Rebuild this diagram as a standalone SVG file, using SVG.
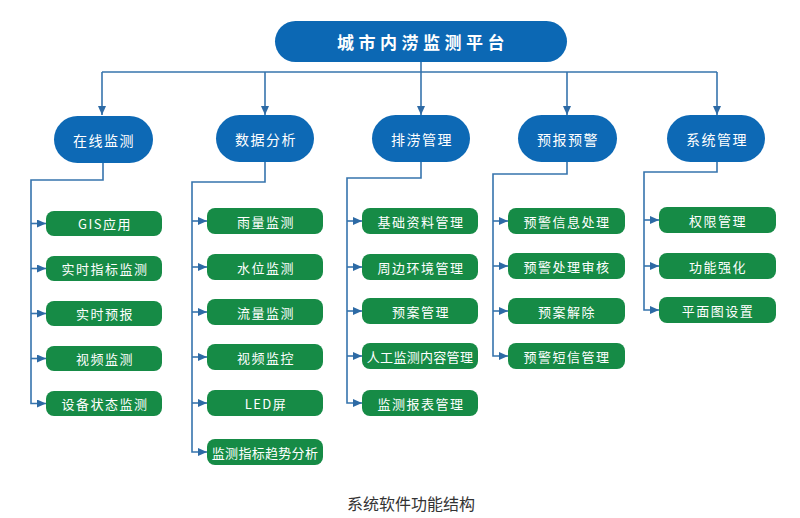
<svg xmlns="http://www.w3.org/2000/svg" width="800" height="518" viewBox="0 0 800 518">
<defs>
<style>
.top{fill:#0c68b4}
.l2{fill:#0d69b5}
.leaf{fill:#168b46}
.ln{fill:none;stroke:#3674ad;stroke-width:1.6}
.t{font-family:"Noto Sans CJK SC","Noto Sans",sans-serif;fill:#ffffff;text-anchor:middle;dominant-baseline:central}
.tt{font-size:17px;font-weight:bold;letter-spacing:4.5px}
.t2{font-size:14px;letter-spacing:1.5px}
.t3{font-size:13px;letter-spacing:1.5px}
.cap{font-family:"Noto Sans CJK SC","Noto Sans",sans-serif;font-size:16px;fill:#333333;text-anchor:middle;dominant-baseline:central}
</style>
<marker id="ad" markerWidth="9" markerHeight="8" refX="9" refY="4" orient="auto" markerUnits="userSpaceOnUse">
<path d="M0,0 L9,4 L0,8 Z" fill="#2d6aa5"/>
</marker>
</defs>
<rect width="800" height="518" fill="#ffffff"/>
<g id="connectors">
<path class="ln" d="M102,72 H717"/>
<path class="ln" d="M421,62 V72"/>
<path class="ln" d="M102,72 V115" marker-end="url(#ad)"/>
<path class="ln" d="M265,72 V115" marker-end="url(#ad)"/>
<path class="ln" d="M421,72 V115" marker-end="url(#ad)"/>
<path class="ln" d="M567,72 V115" marker-end="url(#ad)"/>
<path class="ln" d="M717,72 V115" marker-end="url(#ad)"/>
<!-- col1 -->
<path class="ln" d="M103,163 V180 H31 V403.5 H46" marker-end="url(#ad)"/>
<path class="ln" d="M31,223.5 H46" marker-end="url(#ad)"/>
<path class="ln" d="M31,268.5 H46" marker-end="url(#ad)"/>
<path class="ln" d="M31,313.5 H46" marker-end="url(#ad)"/>
<path class="ln" d="M31,358.5 H46" marker-end="url(#ad)"/>
<!-- col2 -->
<path class="ln" d="M265,162 V182 H192 V452 H207" marker-end="url(#ad)"/>
<path class="ln" d="M192,221 H207" marker-end="url(#ad)"/>
<path class="ln" d="M192,267 H207" marker-end="url(#ad)"/>
<path class="ln" d="M192,312 H207" marker-end="url(#ad)"/>
<path class="ln" d="M192,357 H207" marker-end="url(#ad)"/>
<path class="ln" d="M192,403 H207" marker-end="url(#ad)"/>
<!-- col3 -->
<path class="ln" d="M421,162 V178 H347 V403 H362" marker-end="url(#ad)"/>
<path class="ln" d="M347,221 H362" marker-end="url(#ad)"/>
<path class="ln" d="M347,267 H362" marker-end="url(#ad)"/>
<path class="ln" d="M347,311 H362" marker-end="url(#ad)"/>
<path class="ln" d="M347,356 H362" marker-end="url(#ad)"/>
<!-- col4 -->
<path class="ln" d="M567,162 V174 H493 V356 H508" marker-end="url(#ad)"/>
<path class="ln" d="M493,221 H508" marker-end="url(#ad)"/>
<path class="ln" d="M493,266 H508" marker-end="url(#ad)"/>
<path class="ln" d="M493,311 H508" marker-end="url(#ad)"/>
<!-- col5 -->
<path class="ln" d="M717,162 V172 H644 V310 H659" marker-end="url(#ad)"/>
<path class="ln" d="M644,220 H659" marker-end="url(#ad)"/>
<path class="ln" d="M644,266 H659" marker-end="url(#ad)"/>
</g>
<g id="root"><rect class="top" x="275" y="21" width="292" height="41" rx="20.5"/><text class="t tt" x="423" y="41.5">城市内涝监测平台</text></g>
<g id="n-zxjc"><rect class="l2" x="54" y="116" width="99" height="47" rx="23.5"/><text class="t t2" x="104" y="139.5">在线监测</text></g>
<g id="n-sjfx"><rect class="l2" x="216" y="115" width="98" height="47" rx="23.5"/><text class="t t2" x="266" y="138.5">数据分析</text></g>
<g id="n-plgl"><rect class="l2" x="372" y="115" width="98" height="47" rx="23.5"/><text class="t t2" x="422" y="138.5">排涝管理</text></g>
<g id="n-ybyj"><rect class="l2" x="518" y="115" width="99" height="47" rx="23.5"/><text class="t t2" x="568" y="138.5">预报预警</text></g>
<g id="n-xtgl"><rect class="l2" x="667" y="115" width="98" height="47" rx="23.5"/><text class="t t2" x="717" y="138.5">系统管理</text></g>

<g id="c1-1"><rect class="leaf" x="46" y="211" width="116" height="25" rx="8"/><text class="t t3" x="105" y="223.5">GIS应用</text></g>
<g id="c1-2"><rect class="leaf" x="46" y="256" width="116" height="25" rx="8"/><text class="t t3" x="105" y="268.5">实时指标监测</text></g>
<g id="c1-3"><rect class="leaf" x="46" y="301" width="116" height="25" rx="8"/><text class="t t3" x="105" y="313.5">实时预报</text></g>
<g id="c1-4"><rect class="leaf" x="46" y="346" width="116" height="25" rx="8"/><text class="t t3" x="105" y="358.5">视频监测</text></g>
<g id="c1-5"><rect class="leaf" x="46" y="391" width="116" height="25" rx="8"/><text class="t t3" x="105" y="403.5">设备状态监测</text></g>

<g id="c2-1"><rect class="leaf" x="207" y="208" width="116" height="26" rx="8"/><text class="t t3" x="266" y="221">雨量监测</text></g>
<g id="c2-2"><rect class="leaf" x="207" y="254" width="116" height="26" rx="8"/><text class="t t3" x="266" y="267">水位监测</text></g>
<g id="c2-3"><rect class="leaf" x="207" y="299" width="116" height="26" rx="8"/><text class="t t3" x="266" y="312">流量监测</text></g>
<g id="c2-4"><rect class="leaf" x="207" y="344" width="116" height="26" rx="8"/><text class="t t3" x="266" y="357">视频监控</text></g>
<g id="c2-5"><rect class="leaf" x="207" y="390" width="116" height="26" rx="8"/><text class="t t3" x="266" y="403">LED屏</text></g>
<g id="c2-6"><rect class="leaf" x="207" y="439" width="116" height="26" rx="8"/><text class="t t3" x="265" y="452" style="letter-spacing:0.3px">监测指标趋势分析</text></g>

<g id="c3-1"><rect class="leaf" x="362" y="208" width="116" height="26" rx="8"/><text class="t t3" x="421" y="221">基础资料管理</text></g>
<g id="c3-2"><rect class="leaf" x="362" y="254" width="116" height="26" rx="8"/><text class="t t3" x="421" y="267">周边环境管理</text></g>
<g id="c3-3"><rect class="leaf" x="362" y="298" width="116" height="26" rx="8"/><text class="t t3" x="421" y="311">预案管理</text></g>
<g id="c3-4"><rect class="leaf" x="362" y="343" width="116" height="26" rx="8"/><text class="t t3" x="420" y="356" style="letter-spacing:0.3px">人工监测内容管理</text></g>
<g id="c3-5"><rect class="leaf" x="362" y="390" width="116" height="26" rx="8"/><text class="t t3" x="421" y="403">监测报表管理</text></g>

<g id="c4-1"><rect class="leaf" x="508" y="208" width="117" height="26" rx="8"/><text class="t t3" x="567" y="221">预警信息处理</text></g>
<g id="c4-2"><rect class="leaf" x="508" y="253" width="117" height="26" rx="8"/><text class="t t3" x="567" y="266">预警处理审核</text></g>
<g id="c4-3"><rect class="leaf" x="508" y="298" width="117" height="26" rx="8"/><text class="t t3" x="567" y="311">预案解除</text></g>
<g id="c4-4"><rect class="leaf" x="508" y="343" width="117" height="26" rx="8"/><text class="t t3" x="567" y="356">预警短信管理</text></g>

<g id="c5-1"><rect class="leaf" x="659" y="207" width="117" height="26" rx="8"/><text class="t t3" x="718" y="220">权限管理</text></g>
<g id="c5-2"><rect class="leaf" x="659" y="253" width="117" height="26" rx="8"/><text class="t t3" x="718" y="266">功能强化</text></g>
<g id="c5-3"><rect class="leaf" x="659" y="297" width="117" height="26" rx="8"/><text class="t t3" x="718" y="310">平面图设置</text></g>

<text class="cap" x="411" y="503">系统软件功能结构</text>
</svg>
